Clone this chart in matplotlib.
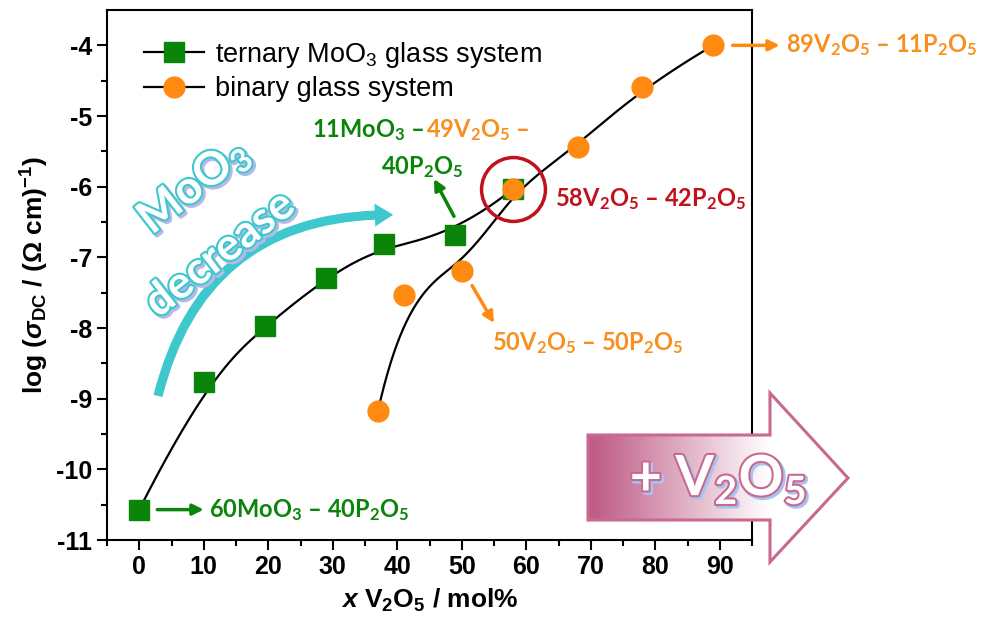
import numpy as np
import matplotlib
matplotlib.use('Agg')
import matplotlib.pyplot as plt
import matplotlib.patheffects as pe
from matplotlib.lines import Line2D
from matplotlib.patches import FancyArrowPatch, Polygon

plt.rcParams['font.family'] = ['Liberation Sans', 'DejaVu Sans']
plt.rcParams['axes.unicode_minus'] = False
plt.rcParams['mathtext.fontset'] = 'custom'
plt.rcParams['mathtext.rm'] = 'Liberation Sans:bold'
plt.rcParams['mathtext.it'] = 'Liberation Sans:italic:bold'
plt.rcParams['mathtext.bf'] = 'Liberation Sans:bold'
plt.rcParams['mathtext.sf'] = 'Lato:bold'

# data
ternary_x = [0, 10, 19.5, 29, 38, 49, 58]
ternary_y = [-10.57, -8.77, -7.97, -7.29, -6.81, -6.68, -6.03]
binary_x = [37, 41, 50, 58, 68, 78, 89]
binary_y = [-9.18, -7.54, -7.20, -6.03, -5.44, -4.59, -4.00]

xticks = [0, 10, 20, 30, 40, 50, 60, 70, 80, 90]
yticks = [-11, -10, -9, -8, -7, -6, -5, -4]

green = '#0A850A'
orange = '#FF8A12'
orange_txt = '#F7901E'
red = '#C0111C'
cyan = '#3CC8CC'
pink = '#C8698F'


def bspline(px, py, n=400, k=3):
    # clamped cubic B-spline with the data points as control points
    P = np.column_stack([px, py]).astype(float)
    m = len(P)
    kn = np.concatenate([np.zeros(k), np.linspace(0, 1, m - k + 1), np.ones(k)])
    t = np.linspace(0, 1 - 1e-9, n)
    N = np.zeros((n, len(kn) - 1))
    for i in range(len(kn) - 1):
        N[:, i] = (kn[i] <= t) & (t < kn[i + 1])
    for d in range(1, k + 1):
        Nn = np.zeros((n, len(kn) - 1 - d))
        for i in range(len(kn) - 1 - d):
            a = 0.0
            b = 0.0
            if kn[i + d] > kn[i]:
                a = (t - kn[i]) / (kn[i + d] - kn[i]) * N[:, i]
            if kn[i + d + 1] > kn[i + 1]:
                b = (kn[i + d + 1] - t) / (kn[i + d + 1] - kn[i + 1]) * N[:, i + 1]
            Nn[:, i] = a + b
        N = Nn
    return N @ P


fig = plt.figure(figsize=(9.96, 6.37), dpi=100)
ax = fig.add_axes([107 / 996, 97 / 637, 645 / 996, 530 / 637])

c1 = bspline(ternary_x, ternary_y)
c2 = bspline(binary_x, binary_y)
ax.plot(c1[:, 0], c1[:, 1], color='black', lw=1.6, zorder=2)
ax.plot(c2[:, 0], c2[:, 1], color='black', lw=1.6, zorder=2)
ax.plot(ternary_x, ternary_y, 's', color=green, ms=14, zorder=3)
ax.plot(binary_x, binary_y, 'o', color=orange, ms=15, zorder=4)
ax.plot(binary_x[3], binary_y[3], 'o', mfc='none', mec=red, ms=46, mew=2.5, zorder=5)

ax.set_xlim(-5, 95)
ax.set_ylim(-11, -3.5)
ax.set_xticks(xticks)
ax.set_yticks(yticks)
ax.set_xticks(np.arange(-5, 96, 10), minor=True)
ax.set_yticks(np.arange(-10.5, -3.9, 1), minor=True)
ax.tick_params(which='major', direction='out', length=7, width=1.5, labelsize=18)
ax.tick_params(which='minor', direction='out', length=4, width=1.5)
for lab in ax.get_xticklabels() + ax.get_yticklabels():
    lab.set_fontweight('bold')
for s in ax.spines.values():
    s.set_linewidth(1.5)

ax.set_xlabel(r'$\it{x}$ V$_2$O$_5$ / mol%', fontsize=19, fontweight='bold', labelpad=6)
ax.set_ylabel(r'log ($\sigma_{\mathrm{DC}}$ / ($\Omega$ cm)$^{-1}$)', fontsize=19,
              fontweight='bold', labelpad=4)

handles = [Line2D([], [], color='black', lw=1.6, marker='s', mfc=green, mec=green, ms=14),
           Line2D([], [], color='black', lw=1.6, marker='o', mfc=orange, mec=orange, ms=15)]
ax.legend(handles, [r'ternary MoO$_{\mathregular{3}}$ glass system', 'binary glass system'],
          loc='upper left', bbox_to_anchor=(0.02, 0.99), frameon=False,
          handlelength=2.2, labelspacing=0.25, handletextpad=0.4,
          prop={'family': 'Liberation Sans', 'size': 19.5})

# annotations
ann = dict(family=['Lato', 'DejaVu Sans'], fontweight='bold', fontsize=17)


def arrow(p0, p1, col):
    ax.annotate('', xy=p1, xytext=p0,
                arrowprops=dict(arrowstyle='-|>', color=col, lw=2.5, mutation_scale=16,
                                shrinkA=0, shrinkB=0), annotation_clip=False)


arrow((ternary_x[0] + 2.8, ternary_y[0]), (ternary_x[0] + 10, ternary_y[0]), green)
ax.text(10.8, ternary_y[0], r'60MoO$_\mathsf{3}$ – 40P$_\mathsf{2}$O$_\mathsf{5}$',
        color=green, va='center', ha='left', **ann)

arrow((48.8, -6.42), (45.7, -5.89), green)
t1 = ax.text(26.8, -5.2, r'11MoO$_\mathsf{3}$ – ', color=green, va='center', ha='left', **ann)
ax.annotate(r'49V$_\mathsf{2}$O$_\mathsf{5}$ –', xy=(1, 0), xycoords=t1, va='bottom',
            ha='left', color=orange_txt, **ann)
ax.text(37.5, -5.72, r'40P$_\mathsf{2}$O$_\mathsf{5}$', color=green, va='center', ha='left', **ann)

ax.text(64.5, -6.17, r'58V$_\mathsf{2}$O$_\mathsf{5}$ – 42P$_\mathsf{2}$O$_\mathsf{5}$',
        color=red, va='center', ha='left', **ann)

arrow((51.6, -7.4), (55.0, -7.93), orange)
ax.text(54.7, -8.22, r'50V$_\mathsf{2}$O$_\mathsf{5}$ – 50P$_\mathsf{2}$O$_\mathsf{5}$',
        color=orange_txt, va='center', ha='left', **ann)

arrow((92.0, binary_y[-1]), (99.3, binary_y[-1]), orange)
ax.text(100.3, binary_y[-1], r'89V$_\mathsf{2}$O$_\mathsf{5}$ – 11P$_\mathsf{2}$O$_\mathsf{5}$',
        color=orange_txt, va='center', ha='left', clip_on=False, **ann)

# cyan curved arrow and outlined text
ax.add_patch(FancyArrowPatch((2.8, -9.0), (39.8, -6.4), connectionstyle='arc3,rad=-0.4',
                             arrowstyle='simple,tail_width=0.3,head_width=0.75,head_length=0.6',
                             mutation_scale=22, color=cyan, lw=0, zorder=2))
outline_c = [pe.Stroke(linewidth=3.5, foreground='#B8B8E8', offset=(1.5, -1.5)),
             pe.Stroke(linewidth=3, foreground=cyan), pe.Normal()]
ax.text(8.5, -6.0, r'MoO$_\mathsf{3}$', rotation=38, color='white', fontsize=33,
        family=['Lato', 'DejaVu Sans'], fontweight='bold', ha='center', va='center',
        path_effects=outline_c, zorder=6)
ax.text(12.5, -6.95, 'decrease', rotation=38, color='white', fontsize=32,
        family=['Lato', 'DejaVu Sans'], fontweight='bold', ha='center', va='center',
        path_effects=outline_c, zorder=6)

# big gradient arrow in pixel coordinates
ov = fig.add_axes([0, 0, 1, 1], zorder=10)
ov.set_xlim(0, 996)
ov.set_ylim(637, 0)
ov.axis('off')
ov.patch.set_alpha(0)
pts = [(588, 435), (770, 435), (770, 393), (848, 478), (770, 562), (770, 520), (588, 520)]
poly = Polygon(pts, closed=True, fc='none', ec=pink, lw=2.2, zorder=3)
ov.add_patch(poly)
xs = np.linspace(588, 848, 300)
frac = np.clip((xs - 595) / (770 - 595), 0, 1)
c0 = np.array([0xC0, 0x5E, 0x88]) / 255
grad = c0[None, :] * (1 - frac[:, None]) + frac[:, None]
img = ov.imshow(grad[None, :, :], extent=(588, 848, 562, 393), aspect='auto', zorder=2,
                interpolation='bilinear')
img.set_clip_path(poly)
outline_p = [pe.Stroke(linewidth=3.5, foreground='#A8C4F0', offset=(1.5, -1.5)),
             pe.Stroke(linewidth=3, foreground=pink), pe.Normal()]
ov.text(718, 480, r'+ V$_\mathsf{2}$O$_\mathsf{5}$', color='white', fontsize=40,
        family=['Lato', 'DejaVu Sans'], fontweight='bold', ha='center', va='center',
        path_effects=outline_p, zorder=4)
ov.set_xlim(0, 996)
ov.set_ylim(637, 0)

fig.savefig('out.png', dpi=100)
